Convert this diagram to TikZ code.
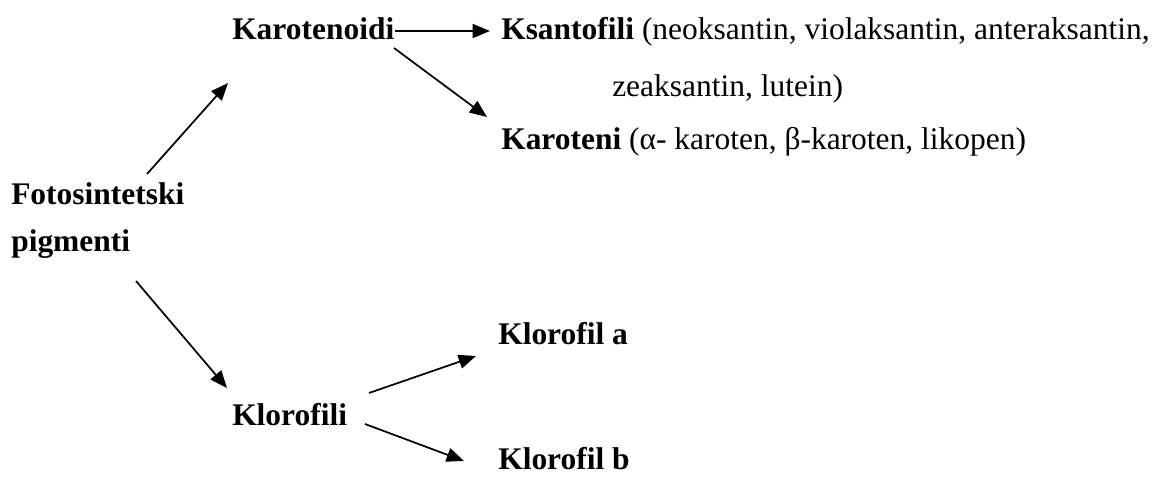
\documentclass[tikz,border=0pt]{standalone}
\usepackage{fontspec}
\setmainfont{Liberation Serif}
\usetikzlibrary{arrows.meta}
\tikzset{
  lbl/.style={anchor=base west, inner sep=0pt, font=\fontsize{23.6}{28}\selectfont},
  conn/.style={line width=1.3pt, -{Triangle[length=13pt,width=10.5pt]}},
}
\begin{document}
\begin{tikzpicture}[x=0.75pt,y=-0.75pt]
\useasboundingbox (0,0) rectangle (1168,484);
% labels
\node[lbl] (foto) at (11,205) {\textbf{Fotosintetski}};
\node[lbl] (pigm) at (11,252) {\textbf{pigmenti}};
\node[lbl] (karo) at (232,40) {\textbf{Karotenoidi}};
\node[lbl] (ksan) at (501,40) {\textbf{Ksantofili} (neoksantin, violaksantin, anteraksantin,};
\node[lbl] (zeak) at (612,97) {zeaksantin, lutein)};
\node[lbl] (kart) at (501,150) {\textbf{Karoteni} (α- karoten, β-karoten, likopen)};
\node[lbl] (klor) at (232,426) {\textbf{Klorofili}};
\node[lbl] (kla) at (498,345) {\textbf{Klorofil a}};
\node[lbl] (klb) at (498,470) {\textbf{Klorofil b}};
% connector end points
\coordinate (f-up) at (147,174);
\coordinate (k-in) at (228,83);
\coordinate (p-dn) at (136,281);
\coordinate (kl-in) at (227,388);
\coordinate (k-r) at (395,31);
\coordinate (ks-in) at (490,31);
\coordinate (k-d) at (394,48);
\coordinate (kt-in) at (487,117);
\coordinate (kl-u) at (369,393);
\coordinate (a-in) at (476,356);
\coordinate (kl-d) at (365,424);
\coordinate (b-in) at (464,461);
% connectors
\draw[conn] (f-up) -- (k-in);
\draw[conn] (p-dn) -- (kl-in);
\draw[conn] (k-r) -- (ks-in);
\draw[conn] (k-d) -- (kt-in);
\draw[conn] (kl-u) -- (a-in);
\draw[conn] (kl-d) -- (b-in);
\end{tikzpicture}
\end{document}
